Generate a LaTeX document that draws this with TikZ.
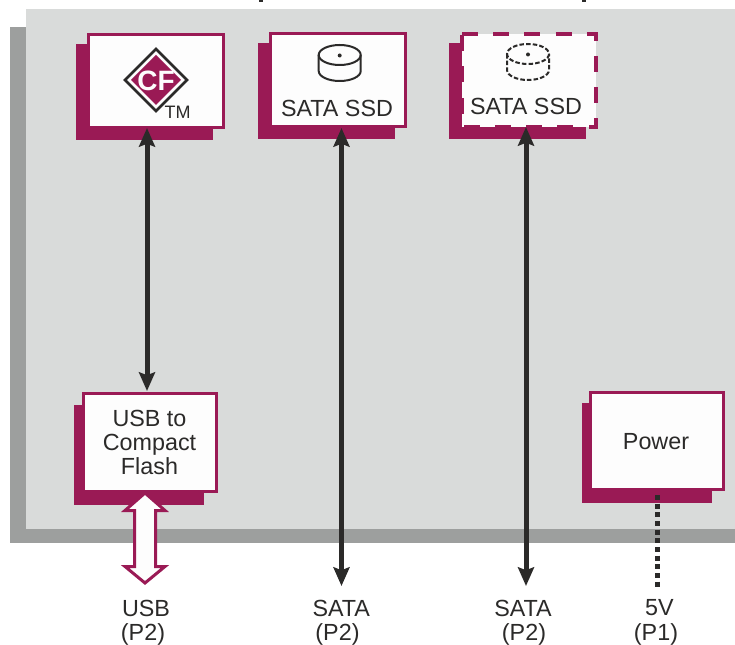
\documentclass[tikz,border=0pt]{standalone}
\usepackage{fontspec}
\setmainfont{Liberation Sans}
\usetikzlibrary{arrows.meta}
\definecolor{mag}{HTML}{9A1A55}
\definecolor{panel}{HTML}{D9DBDA}
\definecolor{panelshadow}{HTML}{9D9F9E}
\definecolor{ink}{HTML}{2B2A29}
\definecolor{paper}{HTML}{FDFDFD}
\def\u{0.75pt}
\tikzset{
  boxnode/.style={draw=mag,fill=paper,line width=3*\u,inner sep=0pt,outer sep=0pt},
  dashbox/.style={fill=paper,draw=none,inner sep=0pt,outer sep=0pt},
  txt/.style={text=ink,font=\fontsize{17.5}{18}\selectfont,inner sep=0pt,outer sep=0pt,anchor=base,align=center},
  bus/.style={draw=ink,line width=5*\u,{Stealth[length=14pt,width=12pt,inset=2.2pt]}-{Stealth[length=14pt,width=12pt,inset=2.2pt]}},
  disk/.style={draw=ink,line width=2*\u},
  diskdash/.style={draw=ink,line width=2*\u,dash pattern=on 3.4pt off 1.6pt},
}
\begin{document}
\begin{tikzpicture}[x=0.75pt,y=-0.75pt]
\useasboundingbox (0,0) rectangle (735,645);
% clipped title descenders
\fill[ink] (259,0) rectangle (263,2);
\fill[ink] (582,0) rectangle (586,2);
% panel
\fill[panelshadow] (10,27) rectangle (735,543);
\fill[panel] (26,9) rectangle (735,529);
% shadows
\fill[mag] (76,44) rectangle (213,140);
\fill[mag] (258,43) rectangle (395,139);
\fill[mag] (449,43) rectangle (586,139);
\fill[mag] (74,405) rectangle (204,505);
\fill[mag] (582,403) rectangle (712,503);
% boxes
\node[boxnode,minimum width=134.5*\u,minimum height=93*\u] (cf) at (155.75,81) {};
\node[boxnode,minimum width=135*\u,minimum height=93*\u] (ssda) at (338,80) {};
\node[dashbox,minimum width=134*\u,minimum height=93*\u] (ssdb) at (529,80.5) {};
\draw[mag,line width=4*\u,dash pattern=on 12pt off 11.4pt] (ssdb.north west) -- (ssdb.north east) -- (ssdb.south east) -- (ssdb.south west) -- cycle;
\node[boxnode,minimum width=133*\u,minimum height=98*\u] (usb) at (150,442.5) {};
\node[boxnode,minimum width=133*\u,minimum height=97*\u] (pwr) at (657.3,441) {};
% CF logo
\draw[ink,line width=2.5*\u,fill=paper] (125,80) -- (156,49) -- (187,80) -- (156,111) -- cycle;
\fill[mag] (131,80) -- (156,55) -- (181,80) -- (156,105) -- cycle;
\node[text=paper,font=\fontsize{21}{21}\bfseries\selectfont,inner sep=0pt,anchor=base] (cftext) at (156,91) {CF};
\node[txt,font=\fontsize{13.5}{14}\selectfont] (tm) at (177.5,119) {TM};
% disks
\draw[disk] (339.7,55) ellipse [x radius=21,y radius=10];
\draw[disk] (318.7,55) -- (318.7,71) arc[start angle=180,end angle=0,x radius=21,y radius=10] -- (360.7,55);
\fill[ink] (339.7,55.5) circle (2);
\draw[diskdash] (528,54) ellipse [x radius=21,y radius=10];
\draw[diskdash] (507,54) -- (507,70) arc[start angle=180,end angle=0,x radius=21,y radius=10] -- (549,54);
\fill[ink] (528,54.5) circle (2);
% box labels
\node[txt] (ssdatext) at (337,116.5) {SATA SSD};
\node[txt] (ssdbtext) at (526,115) {SATA SSD};
\node[txt] (usbtext) at (149.5,474.7) {USB to\\Compact\\Flash};
\node[txt] (pwrtext) at (656,449) {Power};
% connector ends
\coordinate (cfend) at (147,128);
\coordinate (usbend) at (147,391);
\coordinate (ssdaend) at (341.5,128);
\coordinate (sataa) at (341.5,586);
\coordinate (ssdbend) at (526,127);
\coordinate (satab) at (526,586);
\coordinate (pwrend) at (657.5,495);
\coordinate (fivev) at (657.5,588);
% connectors
\draw[bus] (cfend) -- (usbend);
\draw[bus] (ssdaend) -- (sataa);
\draw[bus] (ssdbend) -- (satab);
\draw[ink,line width=5*\u,dash pattern=on 3.75pt off 2.75pt] (pwrend) -- (fivev);
% hollow USB arrow
\draw[mag,fill=paper,line width=3*\u] (145,493) -- (165,510.5) -- (155.5,510.5) -- (155.5,566.5) -- (165,566.5) -- (145,583) -- (125,566.5) -- (134.5,566.5) -- (134.5,510.5) -- (125,510.5) -- cycle;
% bottom labels
\node[txt] (la) at (146,616) {USB};
\node[txt] (lb) at (143,640) {(P2)};
\node[txt] (lc) at (341.3,616) {SATA};
\node[txt] (ld) at (337.5,640) {(P2)};
\node[txt] (le) at (523,616) {SATA};
\node[txt] (lf) at (524,640) {(P2)};
\node[txt] (lg) at (659.5,615) {5V};
\node[txt] (lh) at (656,640) {(P1)};
\end{tikzpicture}
\end{document}
